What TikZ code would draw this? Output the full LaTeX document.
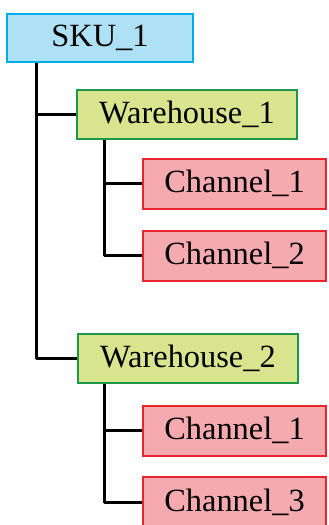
\documentclass[tikz,border=0pt]{standalone}
\usepackage{fontspec}
\setmainfont{Liberation Serif}
\usepackage{xcolor}
\definecolor{skufill}{RGB}{174,224,246}
\definecolor{skuline}{RGB}{0,174,239}
\definecolor{whfill}{RGB}{216,228,142}
\definecolor{whline}{RGB}{28,152,72}
\definecolor{chfill}{RGB}{245,170,176}
\definecolor{chline}{RGB}{234,36,44}

\begin{document}
\begin{tikzpicture}[x=0.5pt,y=0.5pt,
  every node/.style={inner sep=0pt,font=\fontsize{16.2}{18}\selectfont},
  skubox/.style={draw=skuline,fill=skufill,line width=1pt,minimum width=93pt,minimum height=24pt},
  whbox/.style={draw=whline,fill=whfill,line width=1pt,minimum width=110pt,minimum height=24.5pt},
  chbox/.style={draw=chline,fill=chfill,line width=1pt,minimum width=91.5pt,minimum height=25pt},
  link/.style={draw=black,line width=1.5pt,line join=round}]
\useasboundingbox (0,0) rectangle (328,-525);
\node [skubox] (sku) at (100,-38) {SKU\_1};
\node [whbox] (wh1) at (187,-114.5) {Warehouse\_1};
\node [chbox] (ch11) at (234.5,-183.5) {Channel\_1};
\node [chbox] (ch12) at (234.5,-255.5) {Channel\_2};
\node [whbox] (wh2) at (188,-358) {Warehouse\_2};
\node [chbox] (ch21) at (234.5,-430.5) {Channel\_1};
\node [chbox] (ch23) at (234.5,-502) {Channel\_3};
% tree lines
\draw [link] ([xshift=15pt]sku.south west) |- (wh2.west);
\draw [link] ([xshift=15pt]sku.south west |- wh1.west) -- (wh1.west);
\draw [link] ([xshift=14pt]wh1.south west) |- (ch12.west);
\draw [link] ([xshift=14pt]wh1.south west |- ch11.west) -- (ch11.west);
\draw [link] ([xshift=13.5pt]wh2.south west) |- (ch23.west);
\draw [link] ([xshift=13.5pt]wh2.south west |- ch21.west) -- (ch21.west);
\end{tikzpicture}
\end{document}
